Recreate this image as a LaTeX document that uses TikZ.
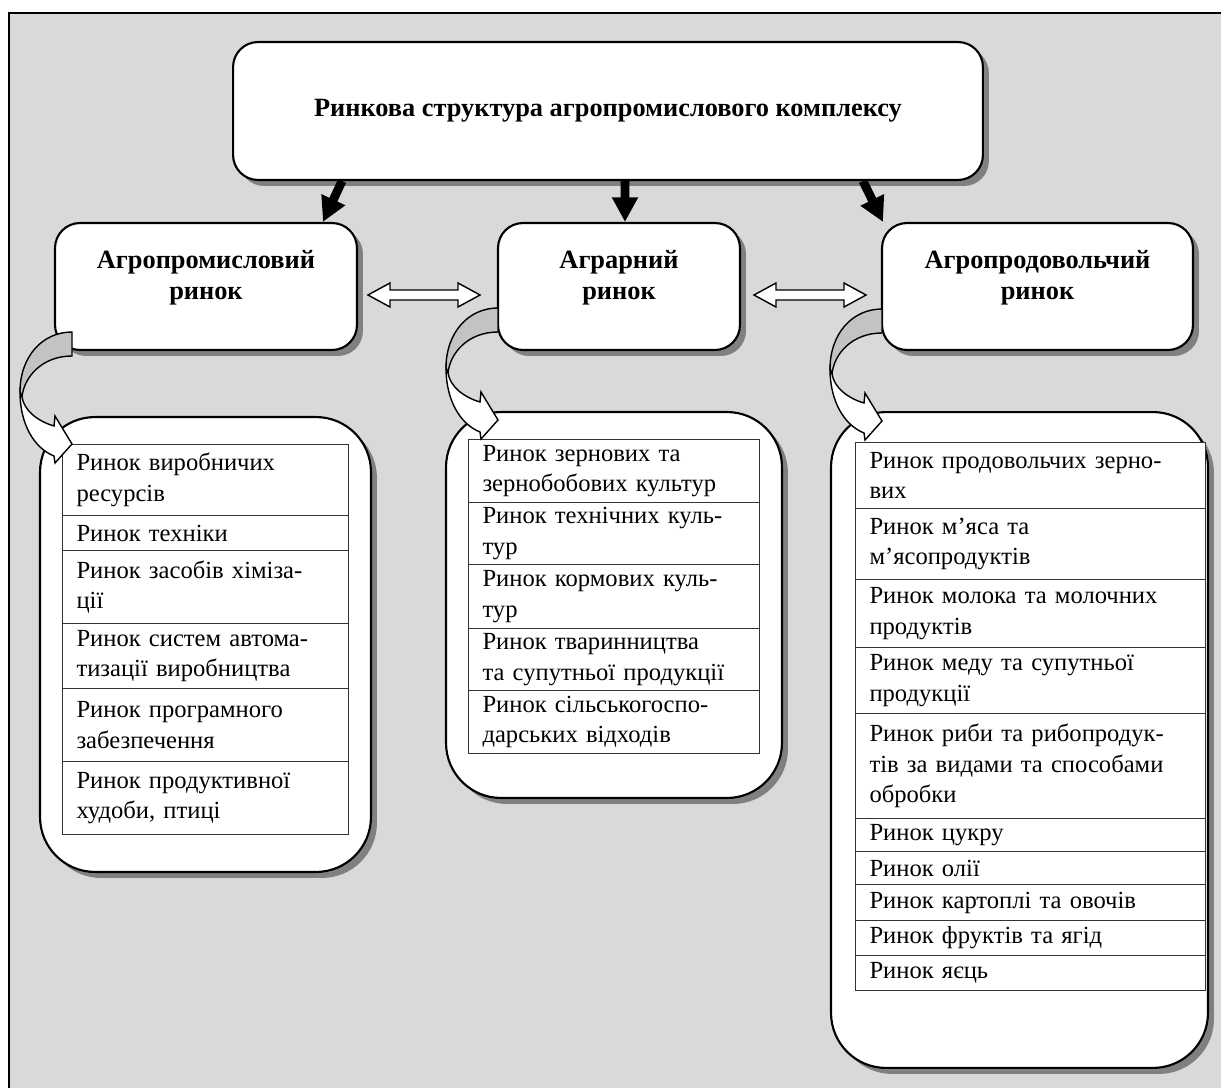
\documentclass[tikz,border=0pt]{standalone}
\usepackage{fontspec}
\setmainfont{Liberation Serif}
\usetikzlibrary{arrows.meta,shadows}

\definecolor{bggray}{RGB}{217,217,217}
\definecolor{backgray}{RGB}{195,195,195}

\tikzset{
  boxshadow/.style={drop shadow={shadow xshift=0.12cm, shadow yshift=-0.12cm, fill=black!50, opacity=1}},
  headbox/.style={draw, line width=1.2pt, fill=white, rounded corners=0.5cm, boxshadow},
  headtxt/.style={font=\fontsize{15}{18}\selectfont\bfseries, align=center},
  listbox/.style={draw, line width=1.2pt, fill=white, rounded corners=1.1cm, boxshadow},
  row/.style={draw=black!80, line width=0.6pt, fill=white, anchor=north west, inner xsep=0.28cm, inner ysep=0pt, align=left, font=\fontsize{14}{17.3}\selectfont},
  feed/.style={line width=5pt, -{Triangle[length=14pt,width=14pt]}},
  twoway/.pic={
    \draw[fill=white, line width=0.8pt] (-56,0) -- (-34,-12) -- (-34,-5) -- (34,-5) -- (34,-12) -- (56,0)
      -- (34,12) -- (34,5) -- (-34,5) -- (-34,12) -- cycle;
  },
  bendarrow/.pic={
    % back side of the band
    \draw[fill=backgray, line width=0.8pt] (0,0) .. controls (-30,0) and (-52,25) .. (-52,60) -- (-50,65)
      .. controls (-48,45) and (-30,24) .. (0,24) -- cycle;
    % front side with the head
    \draw[fill=white, line width=0.8pt] (-52,60) .. controls (-52,92) and (-38,116) .. (-18,124) -- (-17,131)
      -- (0,112) -- (-17,84) -- (-18,94) .. controls (-35,89) and (-48,78) .. (-50,65) -- cycle;
  }
}

\begin{document}
\begin{tikzpicture}[x=0.02cm, y=-0.02cm]
\useasboundingbox (0,0) rectangle (1221,1088);
\clip (0,0) rectangle (1221,1088);
\fill[bggray] (9,13) rectangle (1240,1100);
\draw[line width=1.2pt] (1240,13) -- (9,13) -- (9,1100);

% top level
\node[headbox, headtxt, minimum width=15cm, minimum height=2.76cm] (top) at (608,111)
  {Ринкова структура агропромислового комплексу};

% three markets
\node[headbox, minimum width=6.04cm, minimum height=2.54cm,
  label={[headtxt, anchor=north, yshift=-0.44cm]north:Агропромисловий\\ринок}] (agroind) at (206,286.5) {};
\node[headbox, minimum width=4.84cm, minimum height=2.54cm,
  label={[headtxt, anchor=north, yshift=-0.44cm]north:Аграрний\\ринок}] (agrar) at (619,286.5) {};
\node[headbox, minimum width=6.22cm, minimum height=2.54cm,
  label={[headtxt, anchor=north, yshift=-0.44cm]north:Агропродовольчий\\ринок}] (agrofood) at (1037.5,286.5) {};

\draw[feed] ([xshift=-5.32cm]top.south) -- ([xshift=2.34cm]agroind.north);
\draw[feed] ([xshift=0.34cm]top.south) -- ([xshift=0.12cm]agrar.north);
\draw[feed] ([xshift=5.1cm]top.south) -- ([xshift=-3.09cm]agrofood.north);

\pic at (424,295) {twoway};
\pic at (810,295) {twoway};

% lists
\node[listbox, minimum width=6.62cm, minimum height=9.1cm] (lbox) at (205.5,644.5) {};
\node[listbox, minimum width=6.72cm, minimum height=7.72cm] (mbox) at (614,605) {};
\node[listbox, minimum width=7.54cm, minimum height=13.12cm] (rbox) at (1019.5,740) {};

\foreach \ya/\yb/\txt [count=\i] in {
  444/515/{Ринок виробничих\\ресурсів},
  515/550/{Ринок техніки},
  550/623/{Ринок засобів хіміза-\\ції},
  623/688/{Ринок систем автома-\\тизації виробництва},
  688/761/{Ринок програмного\\забезпечення},
  761/834/{Ринок продуктивної\\худоби, птиці}}
  \node[row, text width=5.16cm, minimum height={(\yb-\ya)*0.02cm}] (l\i) at (62,\ya) {\txt};

\foreach \ya/\yb/\txt [count=\i] in {
  439/502/{Ринок зернових та\\зернобобових культур},
  502/564/{Ринок технічних куль-\\тур},
  564/628/{Ринок кормових куль-\\тур},
  628/690/{Ринок тваринництва\\та супутньої продукції},
  690/753/{Ринок сільськогоспо-\\дарських відходів}}
  \node[row, text width=5.26cm, minimum height={(\yb-\ya)*0.02cm}] (m\i) at (468,\ya) {\txt};

\foreach \ya/\yb/\txt [count=\i] in {
  442/508/{Ринок продовольчих зерно-\\вих},
  508/579/{Ринок м’яса та\\м’ясопродуктів},
  579/647/{Ринок молока та молочних\\продуктів},
  647/713/{Ринок меду та супутньої\\продукції},
  713/818/{Ринок риби та рибопродук-\\тів за видами та способами\\обробки},
  818/851/{Ринок цукру},
  851/884/{Ринок олії},
  884/920/{Ринок картоплі та овочів},
  920/955/{Ринок фруктів та ягід},
  955/990/{Ринок яєць}}
  \node[row, text width=6.44cm, minimum height={(\yb-\ya)*0.02cm}] (r\i) at (855,\ya) {\txt};

\pic at (72,332) {bendarrow};
\pic at (498,308) {bendarrow};
\pic at (882,309) {bendarrow};
\end{tikzpicture}
\end{document}
